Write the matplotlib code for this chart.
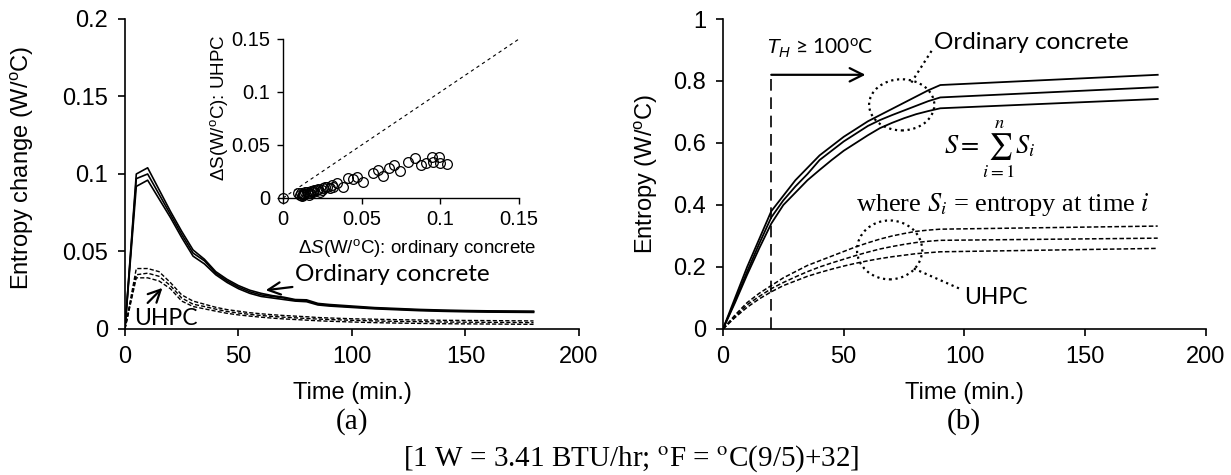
import matplotlib
matplotlib.use('Agg')
import matplotlib.pyplot as plt
from matplotlib.patches import Ellipse

plt.rcParams['font.family'] = ['Liberation Sans', 'DejaVu Sans']
plt.rcParams['mathtext.fontset'] = 'custom'
plt.rcParams['mathtext.rm'] = 'Liberation Sans'
plt.rcParams['mathtext.it'] = 'Liberation Sans:italic'

# (a) entropy change per step
t_a = [0, 5, 10, 15, 20, 25, 30, 35, 40, 45, 50, 55, 60, 65, 70, 75, 80, 85, 90,
       100, 110, 120, 130, 140, 150, 160, 170, 180]
oc_a1 = [0, 0.100, 0.104, 0.090, 0.076, 0.063, 0.051, 0.045, 0.037, 0.032, 0.028, 0.025, 0.023,
         0.0215, 0.0205, 0.019, 0.0188, 0.0165, 0.0158, 0.0148, 0.0138, 0.0132, 0.0126, 0.0122,
         0.0119, 0.0117, 0.0116, 0.0115]
oc_a2 = [0, 0.097, 0.100, 0.087, 0.074, 0.061, 0.049, 0.044, 0.036, 0.031, 0.027, 0.024, 0.022,
         0.021, 0.020, 0.0185, 0.0182, 0.016, 0.0153, 0.0143, 0.0134, 0.0128, 0.0122, 0.0118,
         0.0115, 0.0113, 0.0112, 0.0111]
oc_a3 = [0, 0.092, 0.096, 0.084, 0.072, 0.059, 0.047, 0.042, 0.035, 0.030, 0.026, 0.023, 0.021,
         0.020, 0.019, 0.018, 0.0176, 0.0155, 0.0148, 0.0139, 0.0130, 0.0124, 0.0118, 0.0114,
         0.0111, 0.0109, 0.0108, 0.0107]
uh_a1 = [0, 0.039, 0.039, 0.037, 0.030, 0.022, 0.018, 0.016, 0.014, 0.0125, 0.0115, 0.0105, 0.0098,
         0.0092, 0.0087, 0.0083, 0.0079, 0.0074, 0.0071, 0.0066, 0.0063, 0.0060, 0.0058, 0.0056,
         0.0055, 0.0054, 0.0053, 0.0052]
uh_a2 = [0, 0.035, 0.036, 0.034, 0.028, 0.020, 0.016, 0.0145, 0.0128, 0.0113, 0.0103, 0.0094,
         0.0087, 0.0081, 0.0076, 0.0072, 0.0068, 0.0064, 0.0061, 0.0056, 0.0052, 0.0049, 0.0047,
         0.0045, 0.0044, 0.0043, 0.0042, 0.0041]
uh_a3 = [0, 0.033, 0.033, 0.031, 0.026, 0.018, 0.0145, 0.013, 0.0115, 0.0101, 0.0091, 0.0083,
         0.0076, 0.0070, 0.0065, 0.0061, 0.0057, 0.0053, 0.0050, 0.0045, 0.0041, 0.0038, 0.0036,
         0.0034, 0.0033, 0.0032, 0.0031, 0.0030]

# inset scatter: ordinary vs UHPC
sc_oc = [0, 0.0097, 0.0108, 0.0129, 0.0150, 0.0172, 0.0193, 0.0214, 0.0246, 0.0267, 0.0298,
         0.0320, 0.0341, 0.0383, 0.0415, 0.0447, 0.0468, 0.0506, 0.0574, 0.0606, 0.0633,
         0.0675, 0.0707, 0.0743, 0.0796, 0.0839, 0.0875, 0.0909, 0.0945, 0.0955, 0.0993,
         0.0997, 0.1044, 0.0115, 0.0125, 0.0140, 0.0160, 0.0180, 0.0200, 0.0225, 0.0255,
         0.0280, 0.0310, 0.0120, 0.0135, 0.0165, 0.0190, 0.0235]
sc_uh = [0, 0.0044, 0.0028, 0.0028, 0.0060, 0.0044, 0.0060, 0.0075, 0.0075, 0.0107, 0.0094,
         0.0107, 0.0139, 0.0107, 0.0189, 0.0180, 0.0200, 0.0154, 0.0233, 0.0264, 0.0210,
         0.0280, 0.0310, 0.0255, 0.0337, 0.0374, 0.0310, 0.0333, 0.0390, 0.0343, 0.0390,
         0.0327, 0.0320, 0.0050, 0.0035, 0.0055, 0.0050, 0.0068, 0.0080, 0.0085, 0.0095,
         0.0100, 0.0120, 0.0020, 0.0040, 0.0030, 0.0065, 0.0060]
diag = [0, 0.15]

# (b) cumulative entropy
t_b = [0, 5, 10, 15, 20, 25, 30, 35, 40, 45, 50, 55, 60, 65, 70, 75, 80, 85, 90, 180]
oc_b1 = [0, 0.10, 0.20, 0.29, 0.38, 0.43, 0.48, 0.52, 0.56, 0.59, 0.62, 0.645, 0.67, 0.69, 0.71,
         0.73, 0.75, 0.77, 0.787, 0.82]
oc_b2 = [0, 0.09, 0.185, 0.275, 0.36, 0.415, 0.46, 0.50, 0.545, 0.575, 0.605, 0.63, 0.655, 0.674,
         0.69, 0.705, 0.72, 0.735, 0.747, 0.78]
oc_b3 = [0, 0.085, 0.175, 0.26, 0.34, 0.40, 0.44, 0.48, 0.513, 0.545, 0.575, 0.60, 0.625, 0.648,
         0.665, 0.68, 0.693, 0.703, 0.712, 0.742]
uh_b1 = [0, 0.045, 0.085, 0.115, 0.14, 0.165, 0.185, 0.205, 0.22, 0.235, 0.25, 0.265, 0.278, 0.29,
         0.30, 0.308, 0.315, 0.319, 0.322, 0.332]
uh_b2 = [0, 0.04, 0.078, 0.105, 0.13, 0.15, 0.168, 0.185, 0.20, 0.213, 0.225, 0.237, 0.248, 0.258,
         0.266, 0.273, 0.279, 0.283, 0.286, 0.293]
uh_b3 = [0, 0.037, 0.07, 0.097, 0.12, 0.14, 0.155, 0.17, 0.182, 0.193, 0.203, 0.212, 0.22, 0.227,
         0.233, 0.238, 0.243, 0.246, 0.249, 0.26]

x_ticks = [0, 50, 100, 150, 200]
ya_ticks = [0, 0.05, 0.1, 0.15, 0.2]
ya_labels = ['0', '0.05', '0.1', '0.15', '0.2']
yb_ticks = [0, 0.2, 0.4, 0.6, 0.8, 1]
yb_labels = ['0', '0.2', '0.4', '0.6', '0.8', '1']
in_ticks = [0, 0.05, 0.1, 0.15]
in_labels = ['0', '0.05', '0.1', '0.15']

deg = r'$^{\mathregular{o}}$'
sans2 = ['Lato', 'DejaVu Sans']
fs = 17


def style(ax, size=fs, pad=7):
    for s in ['top', 'right']:
        ax.spines[s].set_visible(False)
    for s in ['left', 'bottom']:
        ax.spines[s].set_linewidth(1.2)
    ax.tick_params(direction='out', length=5, width=1.2, labelsize=size, pad=pad)


fig = plt.figure(figsize=(12.31, 4.75), dpi=100)
ax1 = fig.add_axes([0.1015, 0.3074, 0.3688, 0.6526])
ax2 = fig.add_axes([0.5873, 0.3074, 0.3924, 0.6526])
axi = fig.add_axes([0.2299, 0.5832, 0.1917, 0.3347])

# ---- (a)
for y in [oc_a1, oc_a2, oc_a3]:
    ax1.plot(t_a, y, color='black', lw=1.2)
for y in [uh_a1, uh_a2, uh_a3]:
    ax1.plot(t_a, y, color='black', lw=1.0, ls=(0, (3, 1.5)))
ax1.set_xlim(0, 200)
ax1.set_ylim(0, 0.2)
ax1.set_xticks(x_ticks)
ax1.set_yticks(ya_ticks)
ax1.set_yticklabels(ya_labels)
style(ax1)
ax1.set_xlabel('Time (min.)', fontsize=17)
ax1.xaxis.set_label_coords(0.5, -0.17)
ax1.set_ylabel('Entropy change (W/' + deg + 'C)', fontsize=fs)
ax1.yaxis.set_label_coords(-0.196, 0.52)
ax1.annotate('Ordinary concrete', xy=(62, 0.025), xytext=(75, 0.035), fontsize=17.5,
             family=sans2, va='center', ha='left',
             arrowprops=dict(arrowstyle='->', lw=1.6, color='black', shrinkA=0, shrinkB=0,
                             mutation_scale=22))
ax1.annotate('', xy=(16.5, 0.0265), xytext=(10, 0.0168),
             arrowprops=dict(arrowstyle='->', lw=1.6, color='black', shrinkA=0, shrinkB=0,
                             mutation_scale=22))
ax1.text(4, 0.007, 'UHPC', fontsize=16.5, family=sans2, va='center', ha='left')

# ---- inset
axi.plot(diag, diag, color='black', lw=0.8, ls=(0, (3, 3)))
axi.plot(sc_oc, sc_uh, ls='none', marker='o', ms=7, mfc='none', mec='black', mew=0.9,
         clip_on=False)
axi.set_xlim(0, 0.15)
axi.set_ylim(0, 0.15)
axi.set_xticks(in_ticks)
axi.set_xticklabels(in_labels)
axi.set_yticks(in_ticks)
axi.set_yticklabels(in_labels)
style(axi, 14.5, 5)
axi.tick_params(length=4, width=1.0)
for s in ['left', 'bottom']:
    axi.spines[s].set_linewidth(1.0)
axi.patch.set_alpha(0)
axi.set_xlabel('Δ$\\mathit{S}$(W/' + deg + 'C): ordinary concrete', fontsize=13.5)
axi.xaxis.set_label_coords(0.568, -0.245)
axi.set_ylabel('ΔS(W/' + deg + 'C): UHPC', fontsize=13.5)
axi.yaxis.set_label_coords(-0.225, 0.569)

# ---- (b)
for y in [oc_b1, oc_b2, oc_b3]:
    ax2.plot(t_b, y, color='black', lw=1.3)
for y in [uh_b1, uh_b2, uh_b3]:
    ax2.plot(t_b, y, color='black', lw=1.1, ls=(0, (3, 1.5)))
ax2.plot([20, 20], [0, 0.82], color='black', lw=1.2, ls=(0, (7, 4)))
ax2.annotate('', xy=(59, 0.82), xytext=(20, 0.82),
             arrowprops=dict(arrowstyle='->', lw=1.6, color='black', shrinkA=0, shrinkB=0,
                             mutation_scale=24))
ax2.text(18, 0.905, r'$T_H$ ≥ 100' + deg + 'C', fontsize=15, family=sans2, va='center',
         ha='left')
ax2.add_patch(Ellipse((74, 0.723), 27, 0.165, fill=False, ls=':', lw=1.6, color='black'))
ax2.add_patch(Ellipse((69, 0.255), 27, 0.19, fill=False, ls=':', lw=1.6, color='black'))
ax2.plot([78, 87], [0.795, 0.905], color='black', lw=1.6, ls=':')
ax2.plot([79, 98], [0.195, 0.13], color='black', lw=1.6, ls=':')
ax2.text(87.5, 0.925, 'Ordinary concrete', fontsize=17.5, family=sans2, va='center', ha='left')
ax2.text(100, 0.103, 'UHPC', fontsize=16.5, family=sans2, va='center', ha='left')
ax2.text(110.5, 0.58, r'$S=\sum_{i=1}^{n}S_i$', fontsize=19, math_fontfamily='stix',
         ha='center', va='center')
ax2.text(116, 0.40, r'where $S_i$ = entropy at time $i$', fontsize=19,
         family='Liberation Serif', math_fontfamily='stix', ha='center', va='center')
ax2.set_xlim(0, 200)
ax2.set_ylim(0, 1)
ax2.set_xticks(x_ticks)
ax2.set_yticks(yb_ticks)
ax2.set_yticklabels(yb_labels)
style(ax2)
ax2.set_xlabel('Time (min.)', fontsize=17)
ax2.xaxis.set_label_coords(0.5, -0.17)
ax2.set_ylabel('Entropy (W/' + deg + 'C)', fontsize=fs)
ax2.yaxis.set_label_coords(-0.13, 0.5)

fig.text(0.286, 1 - 422 / 475, '(a)', fontsize=21, family='Liberation Serif', ha='center',
         va='center')
fig.text(0.783, 1 - 422 / 475, '(b)', fontsize=21, family='Liberation Serif', ha='center',
         va='center')
fig.text(0.513, 1 - 459 / 475, '[1 W = 3.41 BTU/hr; ' + r'$^{\rm o}$F = $^{\rm o}$C(9/5)+32]',
         fontsize=21, family='Liberation Serif', math_fontfamily='stix', ha='center',
         va='center')

fig.savefig('out.png', dpi=100)
